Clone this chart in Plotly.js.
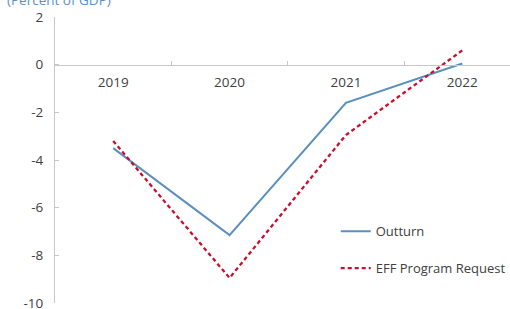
<!DOCTYPE html>
<html><head><meta charset="utf-8">
<script src="https://cdn.plot.ly/plotly-3.0.1.min.js"></script>
<style>html,body{margin:0;padding:0;background:#fff;}#chart{width:510px;height:309px;}</style>
</head><body><div id="chart"></div>
<script>
const years = ['2019', '2020', '2021', '2022'];
const outturn = [-3.5, -7.15, -1.6, 0.05];
const effRequest = [-3.2, -8.95, -2.95, 0.6];
const yTicks = [2, 0, -2, -4, -6, -8, -10];

const font = 'Open Sans, Noto Sans, sans-serif';
const traces = [
  {x: years, y: outturn, name: 'Outturn', type: 'scatter', mode: 'lines',
   line: {color: '#5b8fbd', width: 2}, legendgroup: 'a'},
  {x: years, y: effRequest, name: 'EFF Program Request', type: 'scatter', mode: 'lines',
   line: {color: '#c8102e', width: 2.3, dash: '4px,3px'}, legendgroup: 'b'}
];
const layout = {
  width: 510, height: 309,
  margin: {l: 55, r: 0, t: 17, b: 6, autoexpand: false},
  paper_bgcolor: '#fff', plot_bgcolor: '#fff',
  font: {family: font, size: 13.5, color: '#404040'},
  showlegend: true,
  legend: {x: 0.617, y: 0.303, xanchor: 'left', yanchor: 'top', tracegroupgap: 17,
           font: {size: 13, color: '#404040'}, bgcolor: 'rgba(0,0,0,0)'},
  xaxis: {type: 'category', range: [-0.5, 3.41], anchor: 'free', position: 0.8333,
          showline: true, linecolor: '#c8c8c8', linewidth: 1,
          ticks: 'inside', ticklen: 4, tickcolor: '#c8c8c8', tickson: 'boundaries',
          showgrid: false, zeroline: false, ticklabelstandoff: 5, fixedrange: true},
  yaxis: {range: [-10, 2], tickvals: yTicks, ticktext: yTicks.map(String),
          showline: true, linecolor: '#c8c8c8', linewidth: 1,
          ticks: 'inside', ticklen: 4, tickcolor: '#c8c8c8', ticklabeloverflow: 'allow',
          showgrid: false, zeroline: false, ticklabelstandoff: 8, fixedrange: true},
  annotations: [{text: '(Percent of GDP)', xref: 'paper', yref: 'paper', x: -0.11, y: 1,
                 xanchor: 'left', yanchor: 'bottom', yshift: 6, showarrow: false,
                 font: {family: font, size: 13.5, color: '#5b8fd0'}}]
};
Plotly.newPlot('chart', traces, layout, {displayModeBar: false, staticPlot: true});
</script></body></html>
